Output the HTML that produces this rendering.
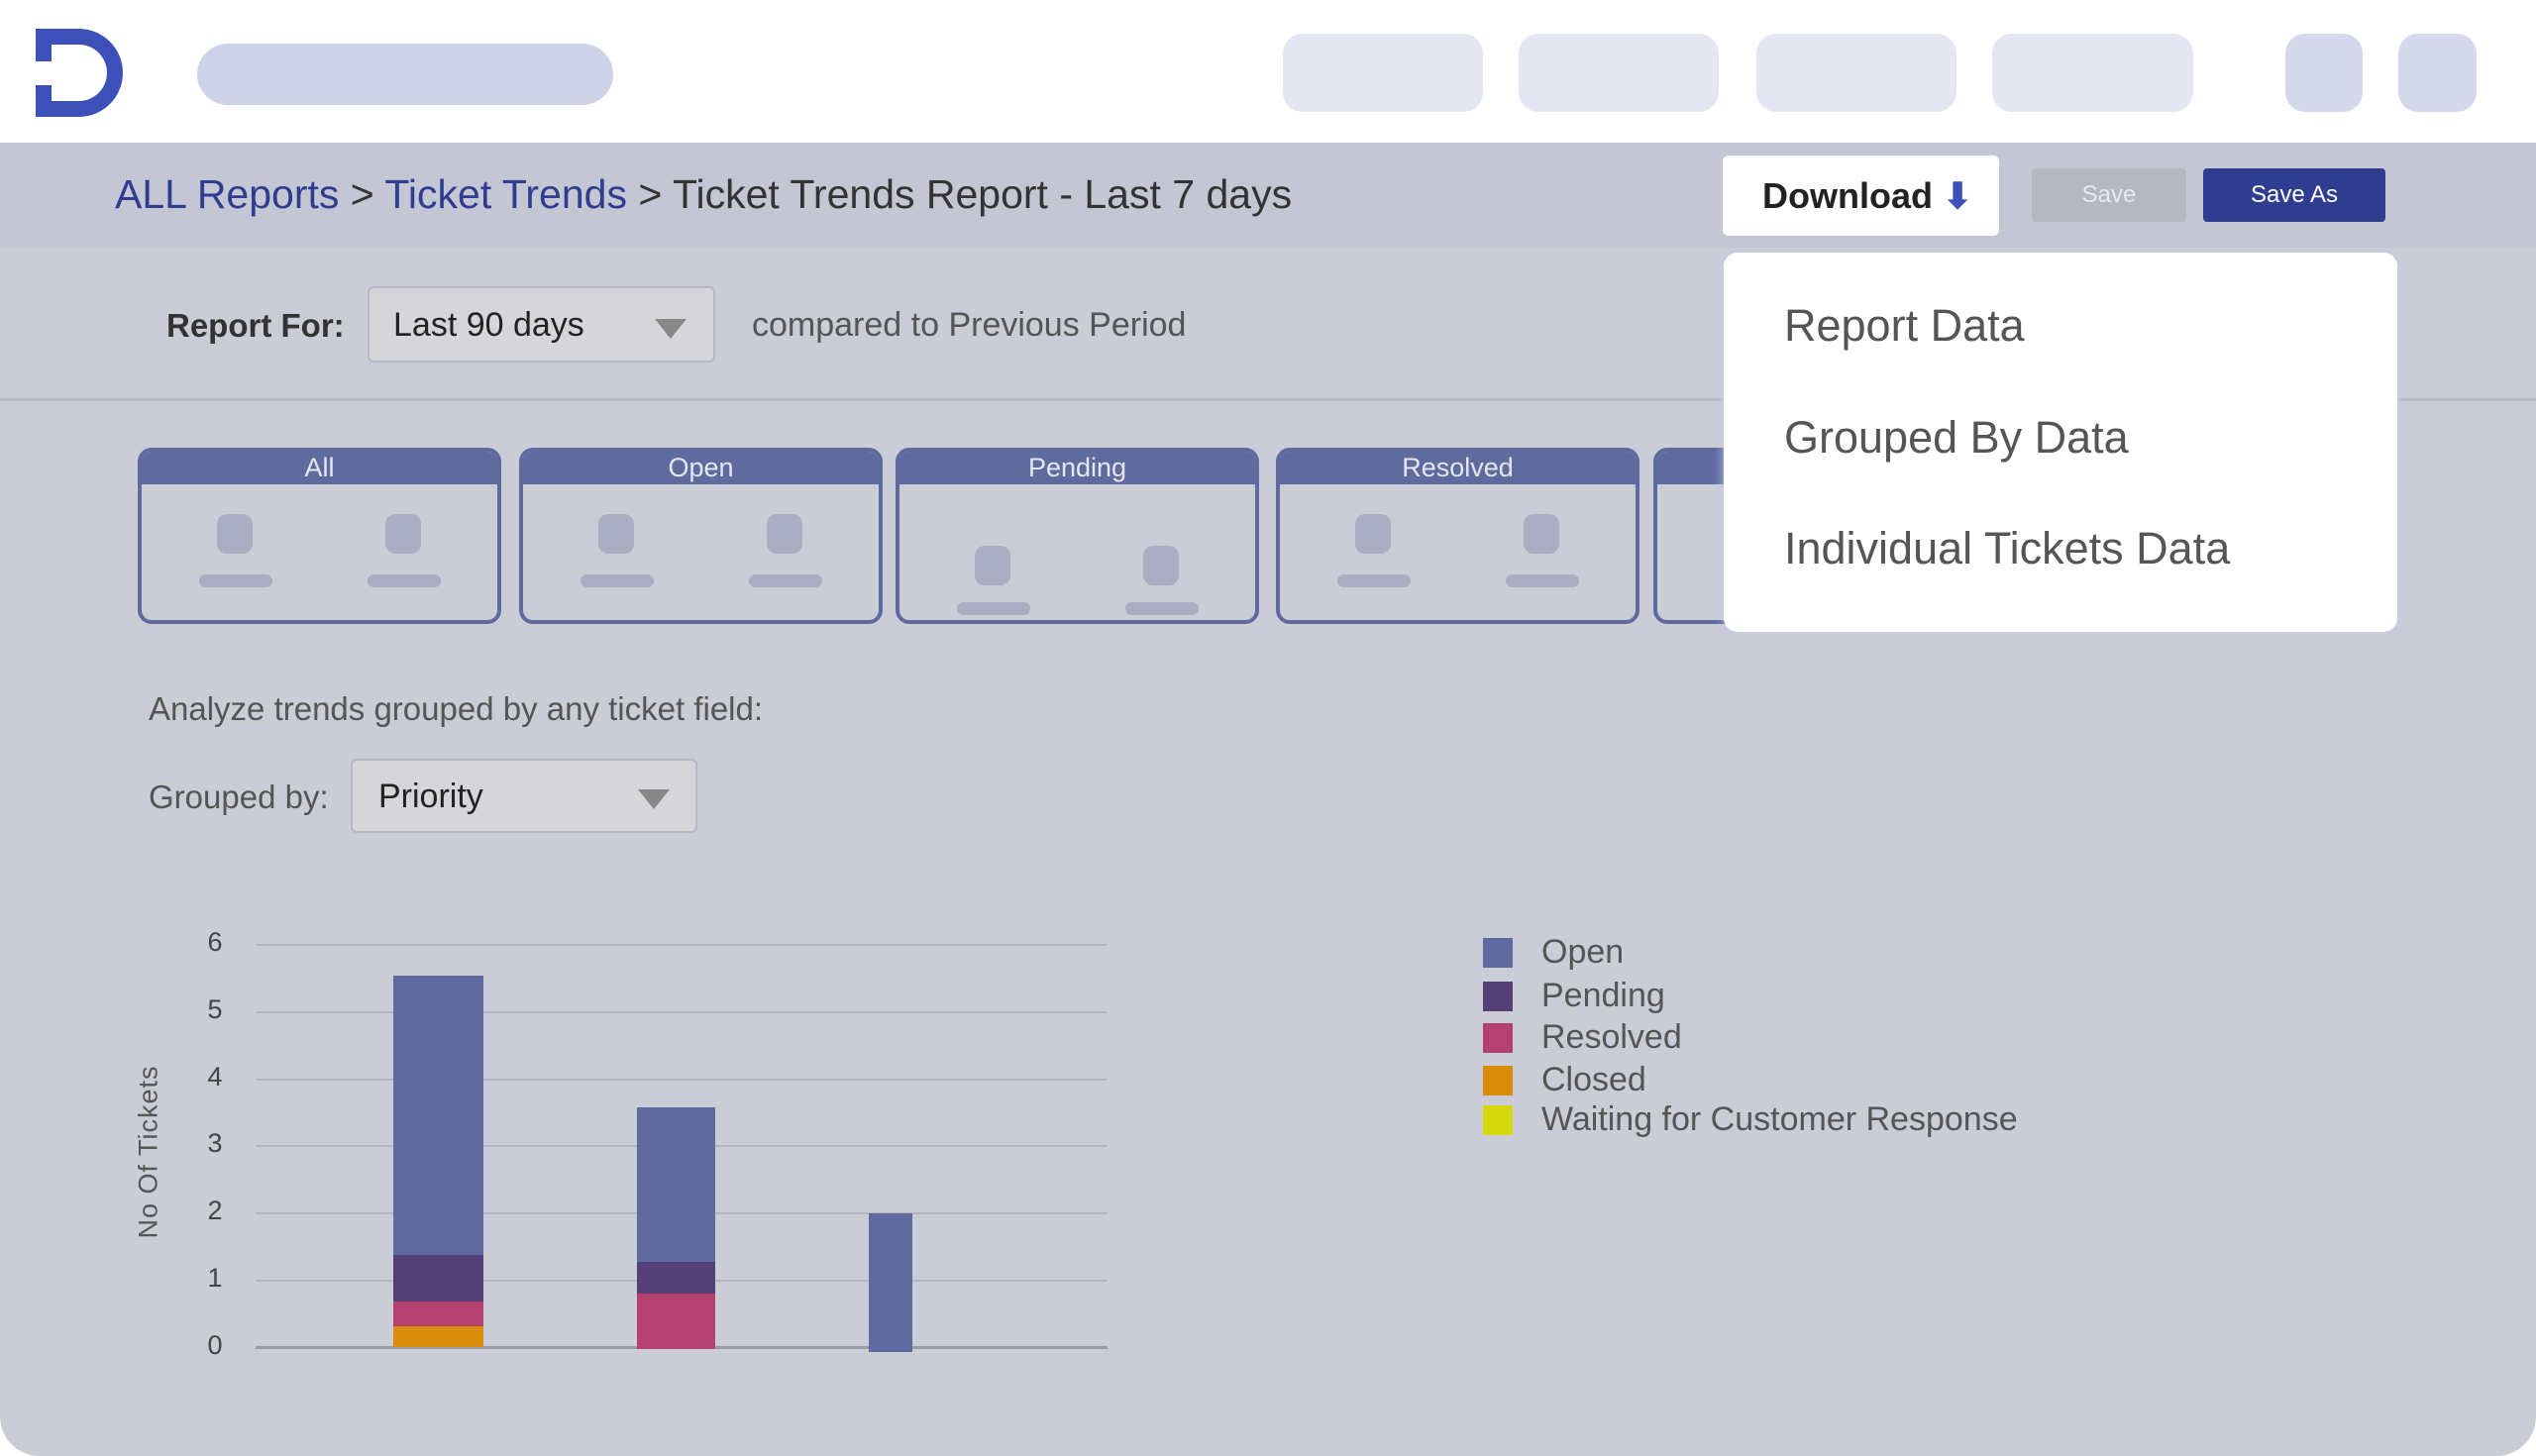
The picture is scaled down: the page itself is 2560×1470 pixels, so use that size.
<!DOCTYPE html>
<html><head><style>
*{margin:0;padding:0;box-sizing:border-box}
body{width:2560px;height:1470px;background:#fff;font-family:"Liberation Sans",sans-serif;position:relative;overflow:hidden}
.a{position:absolute}
.main{left:0;top:144px;width:2560px;height:1326px;background:#caccd6;border-radius:0 0 40px 40px}
.band{left:0;top:144px;width:2560px;height:106px;background:#c4c6d3}
.card{position:absolute;top:452px;width:367px;height:178px;border:4px solid #5f6a9e;border-radius:14px;overflow:hidden}
.card .h{height:33px;background:#5f6a9e;color:#e4e6f0;font-size:27px;text-align:center;line-height:33px}
.dot{position:absolute;width:36px;height:40px;border-radius:10px;background:#abaec3}
.ln{position:absolute;width:74px;height:13px;border-radius:7px;background:#abaec3}
.grid{position:absolute;left:258px;width:860px;height:2px;background:#b2b4be}
.yl{position:absolute;left:205px;width:24px;text-align:center;font-size:27px;color:#444}
.lg{position:absolute;left:1497px;width:30px;height:30px}
.lt{position:absolute;left:1556px;font-size:34px;color:#555}
</style></head><body>
<div class="a" style="left:36px;top:29px;width:88px;height:89px;border-radius:0 45px 45px 0;background:#3d4fb8"></div>
<div class="a" style="left:52px;top:45px;width:56px;height:57px;border-radius:0 30px 30px 0;background:#fff"></div>
<div class="a" style="left:36px;top:62px;width:36px;height:24px;background:#fff"></div>
<div class="a" style="left:199px;top:44px;width:420px;height:62px;border-radius:31px;background:#ced2e7"></div>
<div class="a" style="left:1295px;top:34px;width:202px;height:79px;border-radius:20px;background:#e4e6f2"></div>
<div class="a" style="left:1533px;top:34px;width:202px;height:79px;border-radius:20px;background:#e4e6f2"></div>
<div class="a" style="left:1773px;top:34px;width:202px;height:79px;border-radius:20px;background:#e4e6f2"></div>
<div class="a" style="left:2011px;top:34px;width:203px;height:79px;border-radius:20px;background:#e4e6f2"></div>
<div class="a" style="left:2307px;top:34px;width:78px;height:79px;border-radius:20px;background:#d5d8ea"></div>
<div class="a" style="left:2421px;top:34px;width:79px;height:79px;border-radius:20px;background:#d5d8ea"></div>
<div class="a main"></div>
<div class="a band"></div>
<div class="a" style="left:116px;top:173px;font-size:41px;color:#333;white-space:nowrap"><span style="color:#2f3d91">ALL Reports</span> &gt; <span style="color:#2f3d91">Ticket Trends</span> &gt; Ticket Trends Report - Last 7 days</div>
<div class="a" style="left:1739px;top:157px;width:279px;height:81px;background:#fff;border-radius:6px;font-size:36px;font-weight:bold;color:#222;line-height:81px;padding-left:40px">Download <span style="color:#3d4fb8">⬇</span></div>
<div class="a" style="left:2051px;top:170px;width:156px;height:54px;background:#b5b7c2;border-radius:4px;color:#e8e8ee;font-size:24px;text-align:center;line-height:54px">Save</div>
<div class="a" style="left:2224px;top:170px;width:184px;height:54px;background:#2f3d91;border-radius:4px;color:#fff;font-size:24px;text-align:center;line-height:54px">Save As</div>
<div class="a" style="left:168px;top:310px;font-size:33px;font-weight:bold;color:#333">Report For:</div>
<div class="a" style="left:371px;top:289px;width:351px;height:77px;background:#d6d6da;border:2px solid #b6b8c8;border-radius:6px;font-size:34px;color:#222;line-height:75px;padding-left:24px">Last 90 days</div>
<div class="a" style="left:661px;top:322px;width:0;height:0;border-left:16px solid transparent;border-right:16px solid transparent;border-top:20px solid #888"></div>
<div class="a" style="left:759px;top:309px;font-size:34px;color:#555">compared to Previous Period</div>
<div class="a" style="left:0;top:402px;width:2560px;height:3px;background:#b8bac6"></div>
<div class="card" style="left:139px"><div class="h">All</div><div class="dot" style="left:76px;top:63px"></div><div class="dot" style="left:246px;top:63px"></div><div class="ln" style="left:58px;top:124px"></div><div class="ln" style="left:228px;top:124px"></div></div>
<div class="card" style="left:524px"><div class="h">Open</div><div class="dot" style="left:76px;top:63px"></div><div class="dot" style="left:246px;top:63px"></div><div class="ln" style="left:58px;top:124px"></div><div class="ln" style="left:228px;top:124px"></div></div>
<div class="card" style="left:904px"><div class="h">Pending</div><div class="dot" style="left:76px;top:95px"></div><div class="dot" style="left:246px;top:95px"></div><div class="ln" style="left:58px;top:152px"></div><div class="ln" style="left:228px;top:152px"></div></div>
<div class="card" style="left:1288px"><div class="h">Resolved</div><div class="dot" style="left:76px;top:63px"></div><div class="dot" style="left:246px;top:63px"></div><div class="ln" style="left:58px;top:124px"></div><div class="ln" style="left:228px;top:124px"></div></div>
<div class="card" style="left:1669px"><div class="h">Closed</div></div>
<div class="a" style="left:1740px;top:255px;width:680px;height:383px;background:#fff;border-radius:14px;box-shadow:0 0 10px rgba(200,205,240,.9)">
<div class="a" style="left:61px;top:48px;font-size:45px;color:#555">Report Data</div>
<div class="a" style="left:61px;top:161px;font-size:45px;color:#555">Grouped By Data</div>
<div class="a" style="left:61px;top:273px;font-size:45px;color:#555">Individual Tickets Data</div>
</div>
<div class="a" style="left:150px;top:697px;font-size:33px;color:#555">Analyze trends grouped by any ticket field:</div>
<div class="a" style="left:150px;top:786px;font-size:33px;color:#555">Grouped by:</div>
<div class="a" style="left:354px;top:766px;width:350px;height:75px;background:#d6d6da;border:2px solid #b6b8c8;border-radius:6px;font-size:34px;color:#222;line-height:73px;padding-left:26px">Priority</div>
<div class="a" style="left:644px;top:797px;width:0;height:0;border-left:16px solid transparent;border-right:16px solid transparent;border-top:20px solid #888"></div>
<div class="grid" style="top:953px"></div><div class="grid" style="top:1021px"></div><div class="grid" style="top:1089px"></div><div class="grid" style="top:1156px"></div><div class="grid" style="top:1224px"></div><div class="grid" style="top:1292px"></div><div class="grid" style="top:1359px;background:#9a9ca6;height:3px"></div>
<div class="yl" style="top:936px">6</div><div class="yl" style="top:1004px">5</div><div class="yl" style="top:1072px">4</div><div class="yl" style="top:1139px">3</div><div class="yl" style="top:1207px">2</div><div class="yl" style="top:1275px">1</div><div class="yl" style="top:1343px">0</div>
<div class="a" style="left:150px;top:1163px;transform:translate(-50%,-50%) rotate(-90deg);font-size:27px;color:#555;white-space:nowrap;letter-spacing:1px">No Of Tickets</div>
<div class="a" style="left:397px;top:985px;width:91px;height:282px;background:#5f6a9e"></div>
<div class="a" style="left:397px;top:1267px;width:91px;height:47px;background:#554177"></div>
<div class="a" style="left:397px;top:1314px;width:91px;height:25px;background:#b5426e"></div>
<div class="a" style="left:397px;top:1339px;width:91px;height:21px;background:#d98c0a"></div>
<div class="a" style="left:643px;top:1118px;width:79px;height:156px;background:#5f6a9e"></div>
<div class="a" style="left:643px;top:1274px;width:79px;height:32px;background:#554177"></div>
<div class="a" style="left:643px;top:1306px;width:79px;height:56px;background:#b5426e"></div>
<div class="a" style="left:877px;top:1225px;width:44px;height:140px;background:#5f6a9e"></div>
<div class="lg" style="top:947px;background:#5f6a9e"></div><div class="lt" style="top:942px">Open</div>
<div class="lg" style="top:991px;background:#554177"></div><div class="lt" style="top:986px">Pending</div>
<div class="lg" style="top:1033px;background:#b5426e"></div><div class="lt" style="top:1028px">Resolved</div>
<div class="lg" style="top:1076px;background:#d98c0a"></div><div class="lt" style="top:1071px">Closed</div>
<div class="lg" style="top:1116px;background:#d4d80c"></div><div class="lt" style="top:1111px">Waiting for Customer Response</div>
</body></html>
